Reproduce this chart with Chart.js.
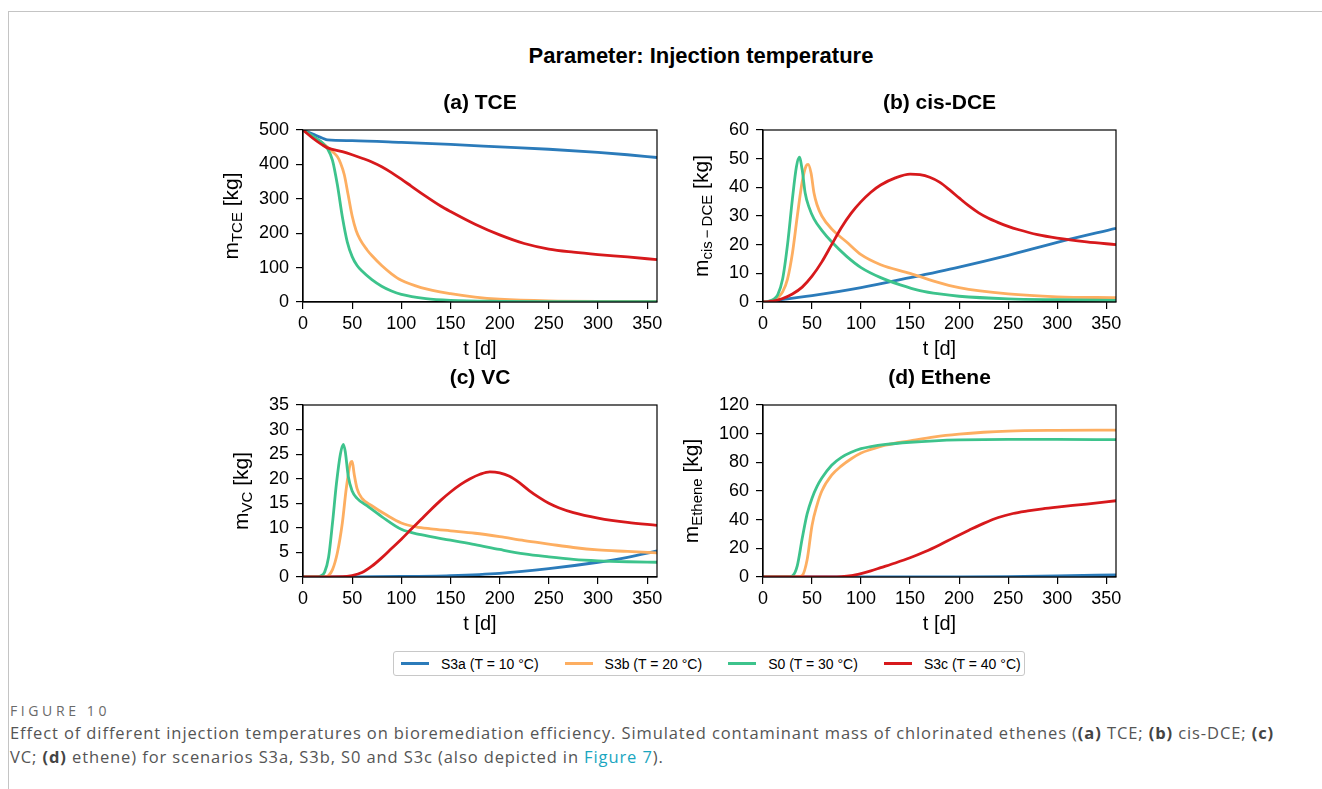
<!DOCTYPE html>
<html>
<head>
<meta charset="utf-8">
<script src="https://cdn.jsdelivr.net/npm/chart.js@4"></script>
<style>
  html, body { margin: 0; padding: 0; background: #fff; }
  body { width: 1322px; height: 789px; position: relative; overflow: hidden; font-family: "Liberation Sans", Arial, sans-serif; }
  .frame-top { position: absolute; left: 8px; top: 11px; width: 1314px; height: 0; border-top: 1px solid #c4c4c4; }
  .frame-left { position: absolute; left: 8px; top: 11px; width: 0; height: 778px; border-left: 1px solid #c4c4c4; }
  .suptitle { position: absolute; left: 401px; top: 43px; width: 600px; text-align: center; font-weight: bold; font-size: 22px; color: #000; }
  canvas { position: absolute; }
  #legend { position: absolute; left: 393px; top: 651px; width: 632px; height: 25px; border: 1px solid #c8c8c8; border-radius: 3px;
            display: flex; align-items: center; padding-left: 7px; box-sizing: border-box; gap: 26px; font-size: 14px; color: #000; white-space: nowrap; }
  #legend .item { display: flex; align-items: center; }
  #legend .swatch { width: 28px; height: 3px; margin-right: 12px; }
  .figlabel { position: absolute; left: 10px; top: 701px; font-family: "Open Sans", sans-serif; font-size: 14px; color: #6a6a6a; letter-spacing: 3.6px; }
  .caption { position: absolute; left: 10px; top: 721px; width: 1310px; font-family: "Open Sans", sans-serif; font-size: 16.5px; letter-spacing: 0.9px; line-height: 24px; color: #555; white-space: nowrap; }
  .caption b { color: #444; }
  .caption .link { color: #1aa6bf; }
</style>
</head>
<body>
<div class="frame-top"></div>
<div class="frame-left"></div>
<div class="suptitle">Parameter: Injection temperature</div>

<canvas id="pa" width="469" height="282" style="left:203px; top:85px;"></canvas>
<canvas id="pb" width="468" height="282" style="left:663px; top:85px;"></canvas>
<canvas id="pc" width="469" height="282" style="left:203px; top:360px;"></canvas>
<canvas id="pd" width="468" height="282" style="left:663px; top:360px;"></canvas>

<div id="legend"></div>

<div class="figlabel">FIGURE 10</div>
<div class="caption">Effect of different injection temperatures on bioremediation efficiency. Simulated contaminant mass of chlorinated ethenes (<b>(a)</b> TCE; <b>(b)</b> cis-DCE; <b>(c)</b><br>VC; <b>(d)</b> ethene) for scenarios S3a, S3b, S0 and S3c (also depicted in <span class="link">Figure 7</span>).</div>

<script>
// scenarios
const seriesNames = ['S3a (T = 10 °C)', 'S3b (T = 20 °C)', 'S0 (T = 30 °C)', 'S3c (T = 40 °C)'];
const seriesColors = ['#2b7bba', '#fdae61', '#3dc38c', '#d7191c'];

// axis ticks
const xTicks = [0, 50, 100, 150, 200, 250, 300, 350];
const yTicksTCE = [0, 100, 200, 300, 400, 500];
const yTicksDCE = [0, 10, 20, 30, 40, 50, 60];
const yTicksVC = [0, 5, 10, 15, 20, 25, 30, 35];
const yTicksEth = [0, 20, 40, 60, 80, 100, 120];

// (a) TCE mass [kg], pairs of [t in d, m]
const tceS3a = [[0,500],[10,488],[20,476],[25,471],[50,469],[100,464],[150,458],[200,451],[250,444],[300,435],[330,428],[360,420]];
const tceS3b = [[0,500],[10,480],[20,462],[30,437],[35,422],[38,405],[42,370],[46,310],[50,250],[54,208],[58,182],[65,152],[70,135],[80,106],[90,82],[100,63],[120,42],[150,24],[175,14],[200,8],[250,3],[300,2],[360,2]];
const tceS0 = [[0,500],[10,482],[20,462],[25,445],[30,412],[35,340],[40,248],[45,175],[50,132],[55,106],[60,90],[70,65],[80,46],[90,32],[100,22],[125,10],[150,5],[200,2],[250,1],[360,1]];
const tceS3c = [[0,500],[10,476],[20,456],[25,448],[40,437],[50,428],[60,418],[70,407],[80,393],[90,376],[100,357],[110,337],[125,307],[140,279],[150,263],[175,226],[200,195],[225,170],[250,154],[275,145],[300,138],[330,131],[360,123]];

// (b) cis-DCE mass [kg]
const dceS3a = [[0,0],[50,2.2],[100,5],[150,8.5],[200,12.2],[250,16.3],[300,20.8],[360,25.7]];
const dceS3b = [[0,0],[10,0.5],[15,1.5],[20,3.5],[25,8],[30,17],[35,30],[40,42],[44,47.5],[46,48],[49,45],[52,38],[55,34],[60,30],[70,25.5],[85,21],[100,16.5],[120,13],[150,10],[175,7.2],[200,5],[250,2.8],[300,1.8],[360,1.5]];
const dceS0 = [[0,0],[5,0.2],[10,0.8],[15,2.5],[20,8],[25,20],[30,36],[34,47],[37,50.5],[40,46],[43,38],[47,33],[52,29],[60,25],[70,21],[85,16],[100,12],[120,8.5],[140,6],[160,4],[180,2.8],[200,2],[250,1.1],[300,0.8],[360,0.6]];
const dceS3c = [[0,0],[10,0.3],[20,1.2],[30,2.8],[40,5.2],[50,9],[60,14],[70,20],[80,26],[90,31],[100,35],[110,38.3],[120,40.8],[135,43.3],[150,44.6],[160,44.4],[170,43.5],[180,41.8],[190,39.2],[200,36.3],[210,33.5],[220,31.1],[230,29.2],[240,27.7],[250,26.4],[260,25.3],[280,23.5],[300,22.3],[330,21],[360,20]];

// (c) VC mass [kg]
const vcS3a = [[0,0],[50,0.02],[100,0.1],[150,0.3],[200,0.75],[250,1.7],[300,3.0],[330,4.0],[360,5.3]];
const vcS3b = [[0,0],[22,0],[26,0.3],[30,1.5],[35,5],[40,11],[44,18],[48,23],[50,23.5],[52,21],[55,18],[60,16],[70,14.5],[85,12.6],[100,11],[115,10.2],[130,9.8],[150,9.4],[175,8.9],[200,8.2],[225,7.4],[250,6.7],[275,6],[300,5.5],[330,5.2],[360,4.9]];
const vcS0 = [[0,0],[15,0],[18,0.2],[22,1],[26,4],[30,11],[34,19],[38,25],[41,27],[43,25.5],[46,20.5],[50,17.5],[55,16],[65,14.5],[80,12.3],[100,9.7],[120,8.6],[150,7.5],[175,6.6],[200,5.6],[225,4.7],[250,4.1],[275,3.6],[300,3.3],[330,3.1],[360,3.0]];
const vcS3c = [[0,0],[40,0.05],[50,0.3],[60,0.9],[70,2.2],[80,3.9],[90,5.8],[100,7.7],[110,9.7],[120,11.7],[130,13.7],[140,15.6],[150,17.3],[160,18.8],[170,20],[180,20.9],[190,21.4],[200,21.2],[210,20.5],[220,19.2],[230,17.6],[240,16.2],[250,15],[260,14.1],[275,13.1],[300,12],[330,11.1],[360,10.5]];

// (d) ethene mass [kg]
const ethS3a = [[0,0],[150,0.02],[200,0.1],[250,0.3],[300,0.7],[360,1.5]];
const ethS3b = [[0,0],[35,0],[40,1],[45,12],[50,36],[55,50],[60,60],[70,71],[80,77.5],[90,82.5],[100,86.5],[110,89],[125,92],[150,95],[175,97.8],[200,99.7],[225,101],[250,101.8],[300,102.3],[360,102.5]];
const ethS0 = [[0,0],[25,0],[30,0.8],[35,8],[40,27],[45,44],[50,55],[55,63],[60,69],[70,78],[80,83.5],[90,87],[100,89.5],[110,91],[125,92.5],[150,94],[175,95],[200,95.6],[250,96],[300,96],[360,95.8]];
const ethS3c = [[0,0],[70,0],[80,0.2],[90,0.9],[100,2.4],[110,4.3],[120,6.5],[135,9.8],[150,13.4],[165,17.6],[180,22.4],[195,27.6],[210,32.6],[225,37.4],[240,41.5],[255,44.3],[270,46.1],[285,47.6],[300,48.8],[330,50.9],[360,53.2]];

const FONT = '"Liberation Sans", Arial, Helvetica, sans-serif';

// frame, subplot title, axis labels (with subscript) drawn around the plot area
const panelDeco = {
  id: 'panelDeco',
  afterDraw(chart, args, opts) {
    const { ctx, chartArea: a } = chart;
    ctx.save();
    ctx.strokeStyle = '#000';
    ctx.lineWidth = 1.2;
    ctx.strokeRect(a.left, a.top, a.right - a.left, a.bottom - a.top);

    ctx.fillStyle = '#000';
    ctx.textAlign = 'center';
    ctx.textBaseline = 'middle';
    ctx.font = 'bold 21px ' + FONT;
    ctx.fillText(opts.title, (a.left + a.right) / 2, a.top - 27);

    ctx.font = '20px ' + FONT;
    ctx.fillText('t [d]', (a.left + a.right) / 2, a.bottom + 47);

    // y label position follows the widest tick label
    ctx.font = '18px ' + FONT;
    const yScale = chart.scales.y;
    let maxW = 0;
    yScale.ticks.forEach(t => { maxW = Math.max(maxW, ctx.measureText(String(t.value)).width); });
    const lx = a.left - (maxW + 42);
    const ly = (a.top + a.bottom) / 2;

    const mainFont = '21px ' + FONT, subFont = '15px ' + FONT;
    ctx.font = mainFont; const w1 = ctx.measureText('m').width;
    ctx.font = subFont; const w2 = ctx.measureText(opts.sub).width;
    ctx.font = mainFont; const w3 = ctx.measureText(' [kg]').width;
    const total = w1 + w2 + w3;

    ctx.translate(lx, ly);
    ctx.rotate(-Math.PI / 2);
    ctx.textAlign = 'left';
    ctx.textBaseline = 'alphabetic';
    let x0 = -total / 2;
    ctx.font = mainFont; ctx.fillText('m', x0, 7); x0 += w1;
    ctx.font = subFont; ctx.fillText(opts.sub, x0, 11); x0 += w2;
    ctx.font = mainFont; ctx.fillText(' [kg]', x0, 7);
    ctx.restore();
  }
};

function makePanel(id, title, sub, yTicks, series) {
  const yMax = yTicks[yTicks.length - 1];
  const axisCommon = {
    type: 'linear',
    grid: { drawOnChartArea: false, drawTicks: true, tickLength: 7, color: '#000', lineWidth: 1.2 },
    border: { display: true, color: '#000', width: 1.2 }
  };
  const tickFont = { family: FONT, size: 18 };
  return new Chart(document.getElementById(id), {
    type: 'line',
    data: {
      datasets: series.map((s, i) => ({
        label: seriesNames[i],
        data: s.map(([x, y]) => ({ x, y })),
        borderColor: seriesColors[i],
        borderWidth: 2.8,
        pointRadius: 0,
        cubicInterpolationMode: 'monotone',
        fill: false,
        order: series.length - i
      }))
    },
    options: {
      responsive: false,
      animation: false,
      devicePixelRatio: 1,
      layout: { padding: { left: 0, top: 45, right: 15, bottom: 0 } },
      plugins: {
        legend: { display: false },
        tooltip: { enabled: false },
        panelDeco: { title, sub }
      },
      scales: {
        x: Object.assign({}, axisCommon, {
          min: 0, max: 360,
          ticks: { color: '#000', font: tickFont, padding: 4, maxRotation: 0, autoSkip: false },
          afterBuildTicks: s => { s.ticks = xTicks.map(v => ({ value: v })); },
          afterFit: s => { s.height = 65; }
        }),
        y: Object.assign({}, axisCommon, {
          min: 0, max: yMax,
          ticks: { color: '#000', font: tickFont, padding: 7, autoSkip: false },
          afterBuildTicks: s => { s.ticks = yTicks.map(v => ({ value: v })); },
          afterFit: s => { s.width = 100; }
        })
      }
    },
    plugins: [panelDeco]
  });
}

makePanel('pa', '(a) TCE', 'TCE', yTicksTCE, [tceS3a, tceS3b, tceS0, tceS3c]);
makePanel('pb', '(b) cis-DCE', 'cis\u2009\u2212\u2009DCE', yTicksDCE, [dceS3a, dceS3b, dceS0, dceS3c]);
makePanel('pc', '(c) VC', 'VC', yTicksVC, [vcS3a, vcS3b, vcS0, vcS3c]);
makePanel('pd', '(d) Ethene', 'Ethene', yTicksEth, [ethS3a, ethS3b, ethS0, ethS3c]);

// shared legend
const legend = document.getElementById('legend');
seriesNames.forEach((name, i) => {
  const item = document.createElement('div');
  item.className = 'item';
  item.innerHTML = '<span class="swatch" style="background:' + seriesColors[i] + '"></span><span>' + name + '</span>';
  legend.appendChild(item);
});
</script>
</body>
</html>
